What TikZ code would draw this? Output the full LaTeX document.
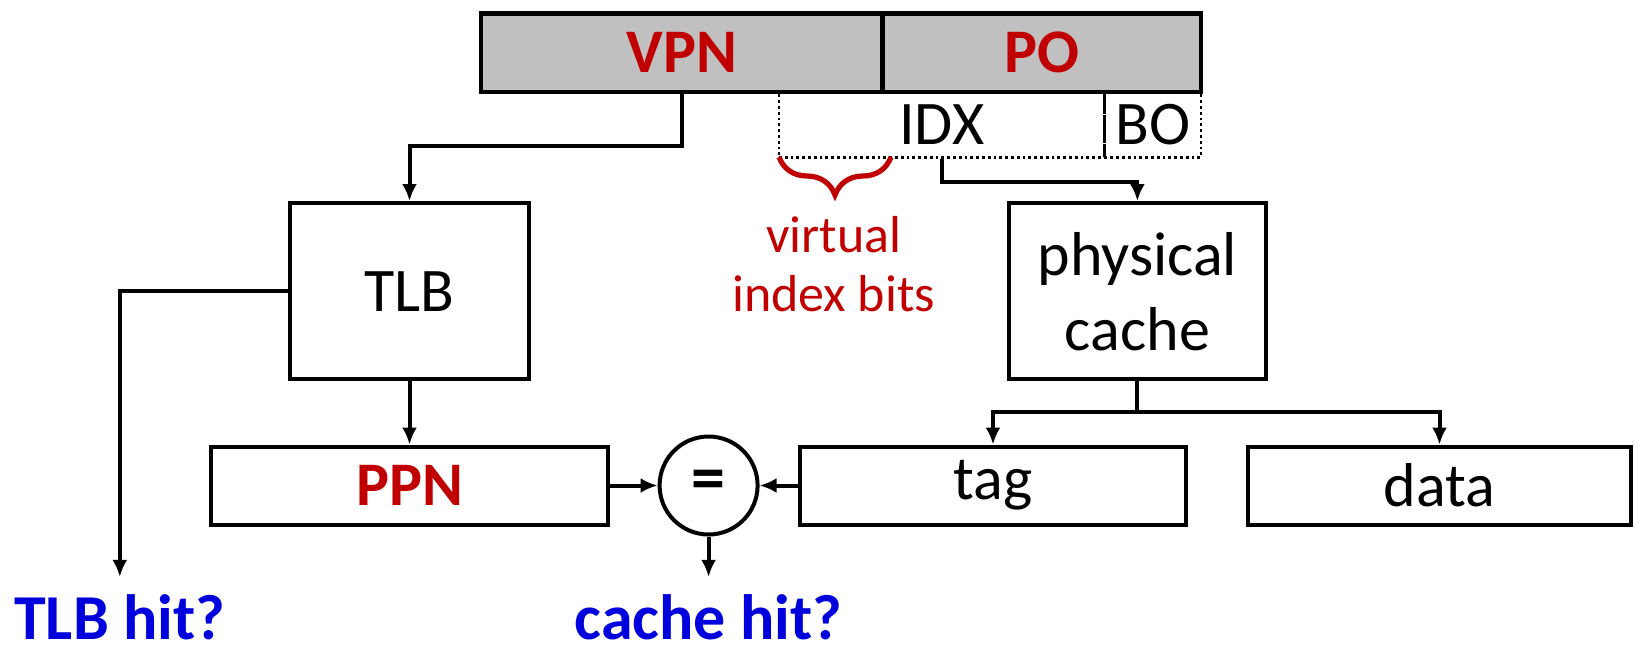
\documentclass[tikz,border=0pt]{standalone}
\usepackage{fontspec}
\setmainfont{Carlito}
\usetikzlibrary{arrows.meta,decorations.pathreplacing}
\definecolor{darkred}{HTML}{C00000}
\definecolor{hitblue}{HTML}{0000DD}
\definecolor{bargray}{HTML}{C0C0C0}

\begin{document}
\begin{tikzpicture}[x=0.5pt,y=-0.5pt,
	box/.style={draw, line width=2pt, rectangle, inner sep=0pt, align=center, font=\fontsize{31}{37.5}\selectfont},
	field/.style={draw, line width=2.2pt, fill=bargray, inner sep=0pt, minimum height=39.1pt, text=darkred, font=\fontsize{31}{37.5}\selectfont\bfseries},
	subfield/.style={draw, line width=1.4pt, dash pattern=on 1.4pt off 1.5pt, inner sep=0pt, minimum height=32.8pt, font=\fontsize{31}{37.5}\selectfont},
	hit/.style={text=hitblue, inner sep=0pt, font=\fontsize{32}{38}\selectfont\bfseries},
	arr/.style={line width=2pt, -{Latex[length=8.5pt,width=7.5pt]}},
	wire/.style={line width=2pt}]
			\useasboundingbox (0,0) rectangle (1634,644);

			% Address fields
			\node[subfield, minimum width=162.75pt] (idx) at (941.8,124.5) {IDX};
			\node[subfield, minimum width=48.25pt] (bo) at (1152.8,124.5) {BO};
			\node[field, minimum width=200.8pt] (vpn) at (681.8,52.6) {VPN};
			\node[field, minimum width=159.2pt] (po) at (1041.8,52.6) {PO};

			% Blocks
			\node[box, minimum width=119.8pt, minimum height=88.2pt] (tlb) at (409.5,291.2) {TLB};
			\node[box, minimum width=128.7pt, minimum height=88.2pt] (cache) at (1137.4,291.2) {physical\\cache};
			\node[box, minimum width=198.5pt, minimum height=39pt, text=darkred, font=\fontsize{31}{37.5}\selectfont\bfseries] (ppn) at (409.5,485.5) {PPN};
			\node[box, minimum width=192.8pt, minimum height=39pt] (tag) at (993,485.5) {tag};
			\node[box, minimum width=191.2pt, minimum height=39pt] (data) at (1439.5,485.5) {data};
			\node[circle, draw, line width=2pt, minimum size=49pt, inner sep=0pt, font=\fontsize{34}{40}\selectfont\bfseries] (eq) at (708.6,485.5) {=};

			% Labels
			\node[hit] (tlbhit) at (119.8,617) {TLB hit?};
			\node[hit] (cachehit) at (708.6,617) {cache hit?};
			\node[text=darkred, align=center, inner sep=0pt, font=\fontsize{26}{29.7}\selectfont] (vbits) at (833.6,264) {virtual\\index bits};
			\draw[darkred, line width=2.6pt, decorate, decoration={brace, mirror, amplitude=19pt}] (779,157) -- (891,157);

			% Translation path
			\coordinate (tlbin) at (409.5,146);
			\draw[arr] (vpn.south) |- (tlbin) -- (tlb.north);
			\draw[arr, shorten >=8.5pt] (tlb.west) -| (tlbhit.north);
			\draw[arr] (tlb.south) -- (ppn.north);

			% Cache path
			\coordinate (cachein) at (1137.4,182.4);
			\draw[arr] (idx.south) |- (cachein) -- (cache.north);
			\coordinate (split) at (1137.4,411.6);
			\draw[wire] (cache.south) -- (split);
			\draw[arr] (split) -| (tag.north);
			\draw[arr] (split) -| (data.north);

			% Compare
			\draw[arr] (ppn.east) -- (eq.west);
			\draw[arr] (tag.west) -- (eq.east);
			\draw[arr, shorten >=8.5pt] (eq.south) -- (cachehit.north);

		\end{tikzpicture}
\end{document}
